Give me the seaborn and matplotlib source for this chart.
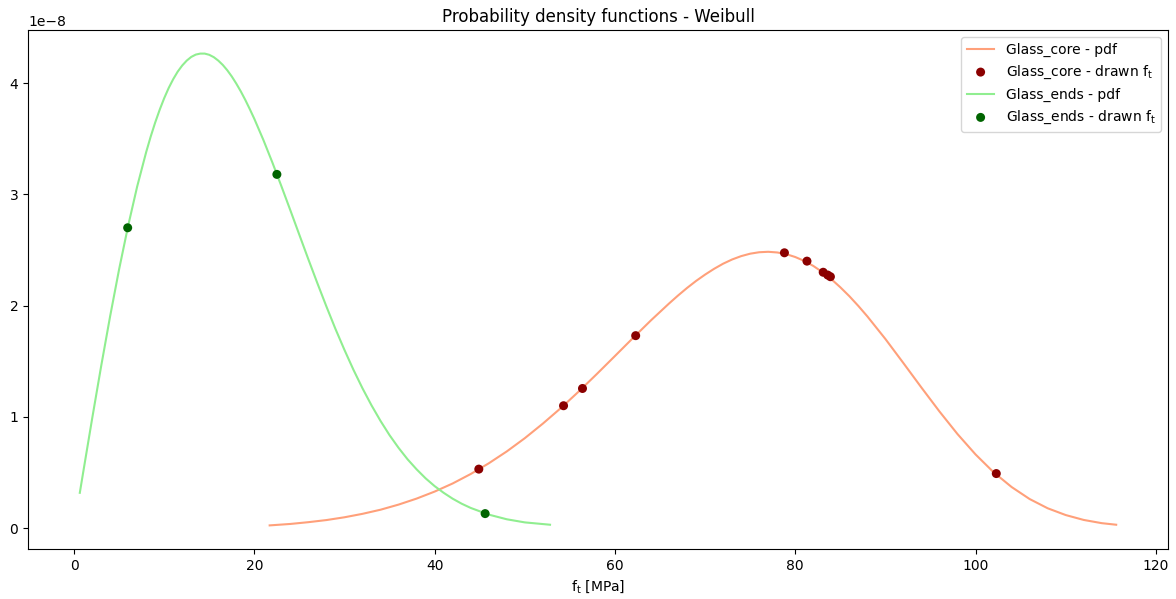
"""Weibull probability density functions for two glass strength groups."""

import matplotlib

matplotlib.use("Agg")
import matplotlib.pyplot as plt
import pandas as pd
import seaborn as sns

SCALE = 1e-8

# Glass_core pdf curve (x in MPa, y in units of 1e-8)
core_x = [21.7, 24, 26, 28, 30, 32, 34, 36, 38, 40, 42, 44, 46, 48, 50, 52,
          54, 56, 58, 60, 62, 64, 66, 67, 68, 69, 70, 71, 72, 73, 74, 75, 76,
          77, 78, 79, 80, 81, 82, 83, 84, 85, 86, 87, 88, 90, 92, 94, 96, 98,
          100, 102, 104, 106, 108, 110, 112, 114, 115.6]
core_pdf = [0.024, 0.037, 0.053, 0.072, 0.097, 0.128, 0.165, 0.211, 0.265,
            0.328, 0.401, 0.486, 0.582, 0.689, 0.808, 0.939, 1.079, 1.229,
            1.386, 1.547, 1.709, 1.868, 2.019, 2.091, 2.159, 2.222, 2.279,
            2.331, 2.377, 2.415, 2.445, 2.467, 2.480, 2.484, 2.478, 2.463,
            2.437, 2.402, 2.357, 2.302, 2.238, 2.165, 2.085, 1.997, 1.903,
            1.700, 1.483, 1.263, 1.048, 0.845, 0.662, 0.502, 0.369, 0.261,
            0.178, 0.117, 0.073, 0.044, 0.030]

# Glass_ends pdf curve
ends_x = [0.64, 1, 2, 3, 4, 5, 6, 7, 8, 8.5, 9, 9.5, 10, 10.5, 11, 11.5, 12,
          12.5, 13, 13.5, 14, 14.5, 15, 15.5, 16, 16.5, 17, 17.5, 18, 18.5,
          19, 19.5, 20, 21, 22, 23, 24, 25, 26, 27, 28, 29, 30, 31, 32, 33,
          34, 35, 36, 37, 38, 39, 40, 41, 42, 43, 44, 46, 48, 50, 52.8]
ends_pdf = [0.317, 0.494, 0.980, 1.452, 1.903, 2.327, 2.717, 3.070, 3.380,
            3.519, 3.646, 3.761, 3.865, 3.957, 4.036, 4.104, 4.159, 4.203,
            4.236, 4.257, 4.266, 4.266, 4.255, 4.234, 4.203, 4.164, 4.116,
            4.060, 3.996, 3.926, 3.849, 3.766, 3.679, 3.490, 3.287, 3.074,
            2.856, 2.635, 2.415, 2.200, 1.991, 1.790, 1.601, 1.422, 1.256,
            1.103, 0.963, 0.835, 0.721, 0.618, 0.528, 0.447, 0.377, 0.317,
            0.264, 0.219, 0.181, 0.121, 0.079, 0.051, 0.030]

# drawn strengths and their pdf values
core_drawn_x = [44.9, 54.3, 56.4, 62.3, 78.8, 81.3, 83.1, 83.6, 83.9, 102.3]
core_drawn_pdf = [0.53, 1.10, 1.255, 1.73, 2.475, 2.40, 2.30, 2.275, 2.26, 0.49]
ends_drawn_x = [5.95, 22.5, 45.6]
ends_drawn_pdf = [2.70, 3.18, 0.13]


def frame(x, y):
    return pd.DataFrame({"x": x, "y": [v * SCALE for v in y]})


def main():
    fig, ax = plt.subplots(figsize=(11.76, 5.99), dpi=100)
    fig.subplots_adjust(left=0.0238, right=0.9932, top=0.9499, bottom=0.0835)

    sns.lineplot(data=frame(core_x, core_pdf), x="x", y="y", color="lightsalmon",
                 linewidth=1.5, estimator=None, sort=False, label="Glass_core - pdf", ax=ax)
    sns.scatterplot(data=frame(core_drawn_x, core_drawn_pdf), x="x", y="y", color="darkred",
                    s=42, edgecolor="none", label=r"Glass_core - drawn f$_\mathrm{t}$",
                    ax=ax, zorder=3)
    sns.lineplot(data=frame(ends_x, ends_pdf), x="x", y="y", color="lightgreen",
                 linewidth=1.5, estimator=None, sort=False, label="Glass_ends - pdf", ax=ax)
    sns.scatterplot(data=frame(ends_drawn_x, ends_drawn_pdf), x="x", y="y", color="darkgreen",
                    s=42, edgecolor="none", label=r"Glass_ends - drawn f$_\mathrm{t}$",
                    ax=ax, zorder=3)

    ax.set_title("Probability density functions - Weibull")
    ax.set_xlabel(r"f$_\mathrm{t}$ [MPa]")
    ax.set_ylabel("")
    ax.legend(loc="upper right")
    fig.savefig("out.png", dpi=100)


if __name__ == "__main__":
    main()
